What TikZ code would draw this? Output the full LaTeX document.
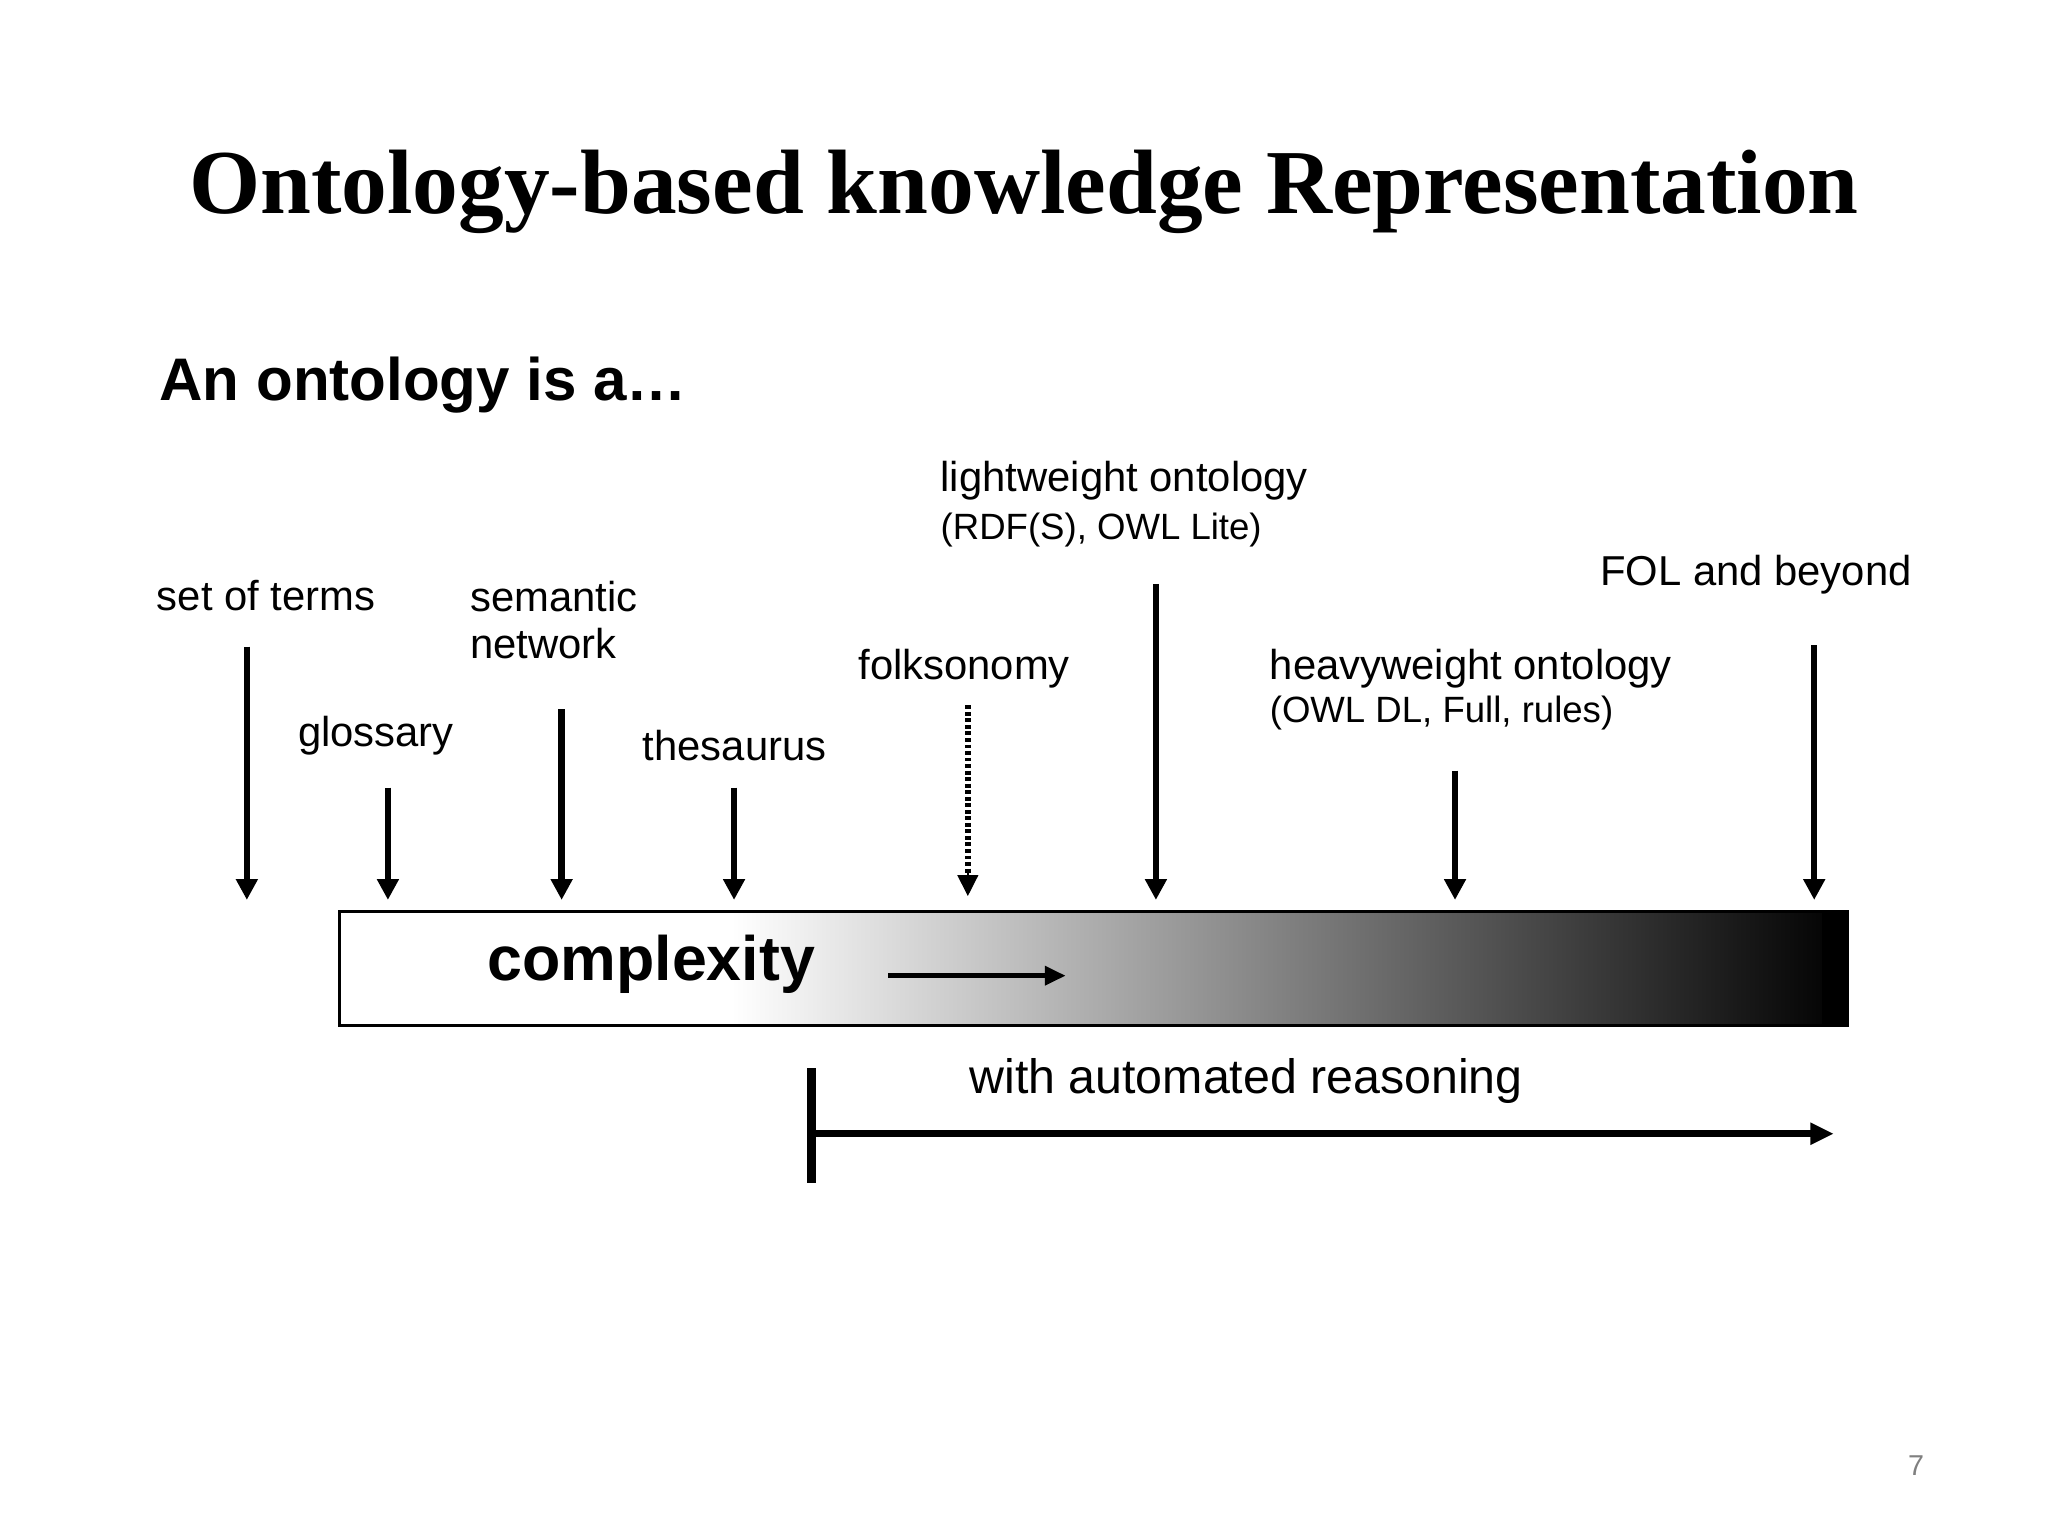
\documentclass[tikz,border=0pt]{standalone}
\usepackage{fontspec}
\setmainfont{Liberation Serif}
\setsansfont{Liberation Sans}
\usetikzlibrary{arrows.meta}
\begin{document}
\begin{tikzpicture}[x=1pt,y=-1pt,
  lbl/.style={anchor=west,inner sep=0pt,font=\sffamily\fontsize{32}{36}\selectfont},
  sub/.style={anchor=west,inner sep=0pt,font=\sffamily\fontsize{28}{32}\selectfont},
  arr/.style={line width=5pt,-{Triangle[width=16pt,length=16pt]}}]
\useasboundingbox (0,0) rectangle (1568,1176);
\fill[white] (0,0) rectangle (1568,1176);
\node (title) at (784,147) {\bfseries\fontsize{70}{76}\selectfont Ontology-based knowledge Representation};
\node[anchor=west,inner sep=0pt,font=\sffamily\bfseries\fontsize{46}{50}\selectfont] (sub) at (122,295) {An ontology is a\ldots};
\node[lbl] (t1) at (120,456) {set of terms};
\node[lbl] (t2) at (228,563) {glossary};
\node[lbl,align=left] (t3) at (360,475) {semantic\\network};
\node[lbl] (t4) at (492,571) {thesaurus};
\node[lbl] (t5) at (657,512) {folksonomy};
\node[lbl] (t6) at (720,368) {lightweight ontology};
\node[sub] (t6b) at (720,406) {(RDF(S), OWL Lite)};
\node[lbl] (t7) at (972,512) {heavyweight ontology};
\node[sub] (t7b) at (972,546) {(OWL DL, Full, rules)};
\node[lbl] (t8) at (1225,440) {FOL and beyond};
\foreach \n/\x/\a in {1/189/495,2/297/603,3/430/543,4/562/603,6/885/447,7/1114/590,8/1389/494}{
  \coordinate (s\n) at (\x,\a); \coordinate (e\n) at (\x,689);
  \draw[arr] (s\n) -- (e\n);}
\coordinate (s5) at (741,540); \coordinate (e5) at (741,686);
\draw[line width=5pt,dash pattern=on 3pt off 2pt] (s5) -- (741,668);
\draw[line width=1pt,-{Triangle[width=16pt,length=16pt]}] (741,668) -- (e5);
\fill[white] (260,698) rectangle (560,785);
\shade[left color=white,right color=black] (560,698) rectangle (1415,785);
\fill[black] (1395,698) rectangle (1415,785);
\draw[line width=2pt] (260,698) rectangle (1415,785);
\node[anchor=west,inner sep=0pt,font=\sffamily\bfseries\fontsize{48}{52}\selectfont] (cx) at (373,738) {complexity};
\coordinate (ca) at (680,747); \coordinate (cb) at (816,747);
\draw[line width=4pt,-{Triangle[width=14pt,length=16pt]}] (ca) -- (cb);
\node[anchor=west,inner sep=0pt,font=\sffamily\fontsize{37}{40}\selectfont] (ar) at (742,828) {with automated reasoning};
\coordinate (r1) at (621,818); \coordinate (r2) at (621,906);
\draw[line width=7pt] (r1) -- (r2);
\coordinate (ra) at (621,868); \coordinate (rb) at (1404,868);
\draw[line width=5pt,-{Triangle[width=16pt,length=18pt]}] (ra) -- (rb);
\node[text=gray,font=\sffamily\fontsize{22}{24}\selectfont] (pg) at (1467,1122) {7};
\end{tikzpicture}
\end{document}
